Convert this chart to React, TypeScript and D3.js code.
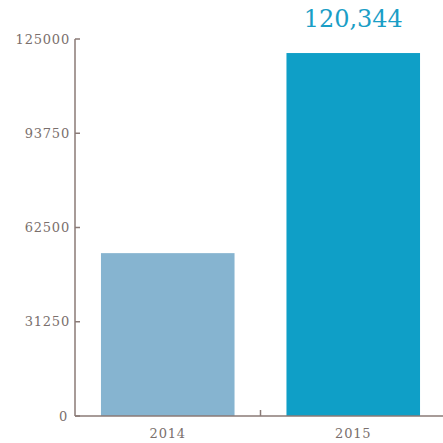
import React from "react";
import * as d3 from "d3";

const categories = ["2014", "2015"];
const values = [54000, 120344];
const yTicks = [0, 31250, 62500, 93750, 125000];
const barColors = ["#86b4d0", "#0f9fc7"];
const valueLabel = "120,344";

export default function App() {
  const W = 443, H = 443;
  const left = 75, right = 446, top = 39, bottom = 416;
  const x = d3.scaleBand<string>().domain(categories).range([left, right]).paddingInner(0.28).paddingOuter(0.14);
  const y = d3.scaleLinear().domain([0, 125000]).range([bottom, top]);
  const axisColor = "#8a7a76";
  const textColor = "#7a6f6c";
  const font = "'DejaVu Serif', 'Liberation Serif', serif";
  const step = x.step();
  return (
    <svg width={W} height={H} style={{ position: "absolute", left: 0, top: 0, background: "#fff" }}>
      {categories.map((c, i) => (
        <rect key={c} x={x(c)} y={y(values[i])} width={x.bandwidth()} height={bottom - y(values[i])} fill={barColors[i]} />
      ))}
      <line x1={left} x2={left} y1={top} y2={bottom} stroke={axisColor} strokeWidth={1.5} />
      <line x1={left} x2={W} y1={bottom} y2={bottom} stroke={axisColor} strokeWidth={1.5} />
      {yTicks.map((t) => (
        <g key={t}>
          <line x1={left} x2={left + 5} y1={y(t)} y2={y(t)} stroke={axisColor} strokeWidth={1.5} />
          <text x={t === 0 ? 68 : 70} y={y(t)} dy="0.35em" textAnchor="end" fontFamily={font} fontSize={13} letterSpacing={0.8} fill={textColor}>
            {t}
          </text>
        </g>
      ))}
      {categories.slice(1).map((c) => (
        <line key={c} x1={left + step * categories.indexOf(c)} x2={left + step * categories.indexOf(c)} y1={bottom} y2={bottom - 6} stroke={axisColor} strokeWidth={1.5} />
      ))}
      {categories.map((c) => (
        <text key={c} x={x(c)! + x.bandwidth() / 2} y={433} textAnchor="middle" dy="0.35em" fontFamily={font} fontSize={13} letterSpacing={0.8} fill={textColor}>
          {c}
        </text>
      ))}
      <text x={x("2015")! + x.bandwidth() / 2} y={19} dy="0.35em" textAnchor="middle" fontFamily={font} fontSize={24} fill="#1a9ec6">
        {valueLabel}
      </text>
    </svg>
  );
}
